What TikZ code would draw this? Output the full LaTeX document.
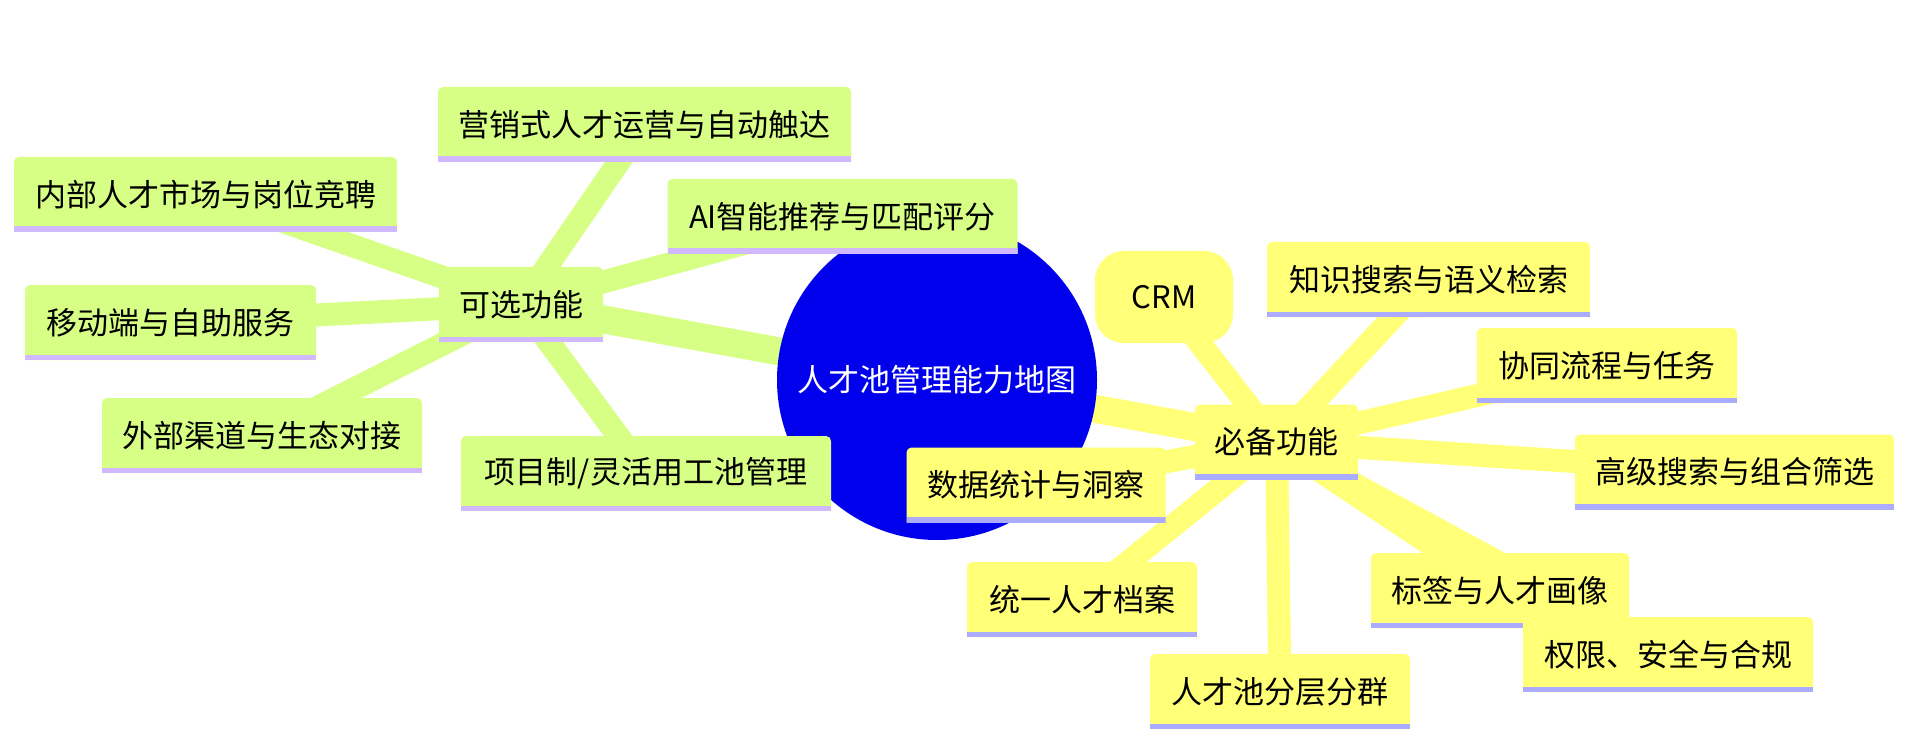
\documentclass[tikz,border=0pt]{standalone}
\usepackage{fontspec}
\setmainfont{Noto Sans CJK SC}
\usetikzlibrary{backgrounds}
\definecolor{rootblue}{RGB}{0,0,236}
\definecolor{yel}{RGB}{255,255,120}
\definecolor{yelbar}{RGB}{171,171,255}
\definecolor{grn}{RGB}{215,255,134}
\definecolor{grnbar}{RGB}{208,185,255}
\newcommand\mmfont{\fontsize{31}{36}\selectfont}
\tikzset{
  mmbox/.style={minimum height=75pt, inner xsep=0pt, inner ysep=0pt, text=black, font=\mmfont, anchor=center,
    path picture={
      \fill[#1] (path picture bounding box.south west) -- ([yshift=-5pt]path picture bounding box.north west) arc[start angle=180,end angle=90,radius=5pt] -- ([xshift=-5pt]path picture bounding box.north east) arc[start angle=90,end angle=0,radius=5pt] -- (path picture bounding box.south east) -- cycle;
      \fill[#1bar] (path picture bounding box.south west) rectangle ([yshift=5.5pt]path picture bounding box.south east);
    }},
  gbox/.style={mmbox=grn},
  ybox/.style={mmbox=yel},
  rootedge/.style={line width=28pt},
  childedge/.style={line width=23pt},
}
\begin{document}
\begin{tikzpicture}[x=1pt,y=1pt]
\useasboundingbox (0,0) rectangle (1905,-751);
% root
\node[circle, fill=rootblue, minimum size=320pt, inner sep=0pt, text=white, font=\mmfont] (root) at (937,-380) {人才池管理能力地图};
% left section
\node[gbox, minimum width=164pt] (opt) at (521,-304.5) {可选功能};
\node[gbox, minimum width=413pt] (mkt) at (644.5,-124.5) {营销式人才运营与自动触达};
\node[gbox, minimum width=383pt] (inner) at (205.5,-194.5) {内部人才市场与岗位竞聘};
\node[gbox, minimum width=350pt] (ai) at (842.5,-216.5) {AI智能推荐与匹配评分};
\node[gbox, minimum width=291pt] (mob) at (170.5,-322.5) {移动端与自助服务};
\node[gbox, minimum width=320pt] (ext) at (262,-435.5) {外部渠道与生态对接};
\node[gbox, minimum width=370pt] (proj) at (646,-473.5) {项目制/灵活用工池管理};
% right section
\node[ybox, minimum width=163pt] (req) at (1276.5,-442) {必备功能};
\node[fill=yel, rounded corners=29pt, minimum width=138pt, minimum height=92pt, inner sep=0pt, font=\mmfont] (crm) at (1164,-297) {CRM};
\node[ybox, minimum width=323pt] (know) at (1428.5,-279.5) {知识搜索与语义检索};
\node[ybox, minimum width=260pt] (flow) at (1607,-365.5) {协同流程与任务};
\node[ybox, minimum width=319pt] (adv) at (1734.5,-472) {高级搜索与组合筛选};
\node[ybox, minimum width=259pt] (stat) at (1036,-485) {数据统计与洞察};
\node[ybox, minimum width=230pt] (prof) at (1082,-599.5) {统一人才档案};
\node[ybox, minimum width=258pt] (tag) at (1500,-590.5) {标签与人才画像};
\node[ybox, minimum width=290pt] (perm) at (1668,-654.5) {权限、安全与合规};
\node[ybox, minimum width=260pt] (tier) at (1280,-691.5) {人才池分层分群};
% edges
\begin{scope}[on background layer]
\draw[rootedge, grn] (root.center) -- (opt.center);
\draw[rootedge, yel] (root.center) -- (req.center);
\foreach \n in {mkt,inner,ai,mob,ext,proj}
  \draw[childedge, grn] (opt.center) -- (\n.center);
\foreach \n in {crm,know,flow,adv,stat,prof,tag,perm,tier}
  \draw[childedge, yel] (req.center) -- (\n.center);
\end{scope}
\end{tikzpicture}
\end{document}
